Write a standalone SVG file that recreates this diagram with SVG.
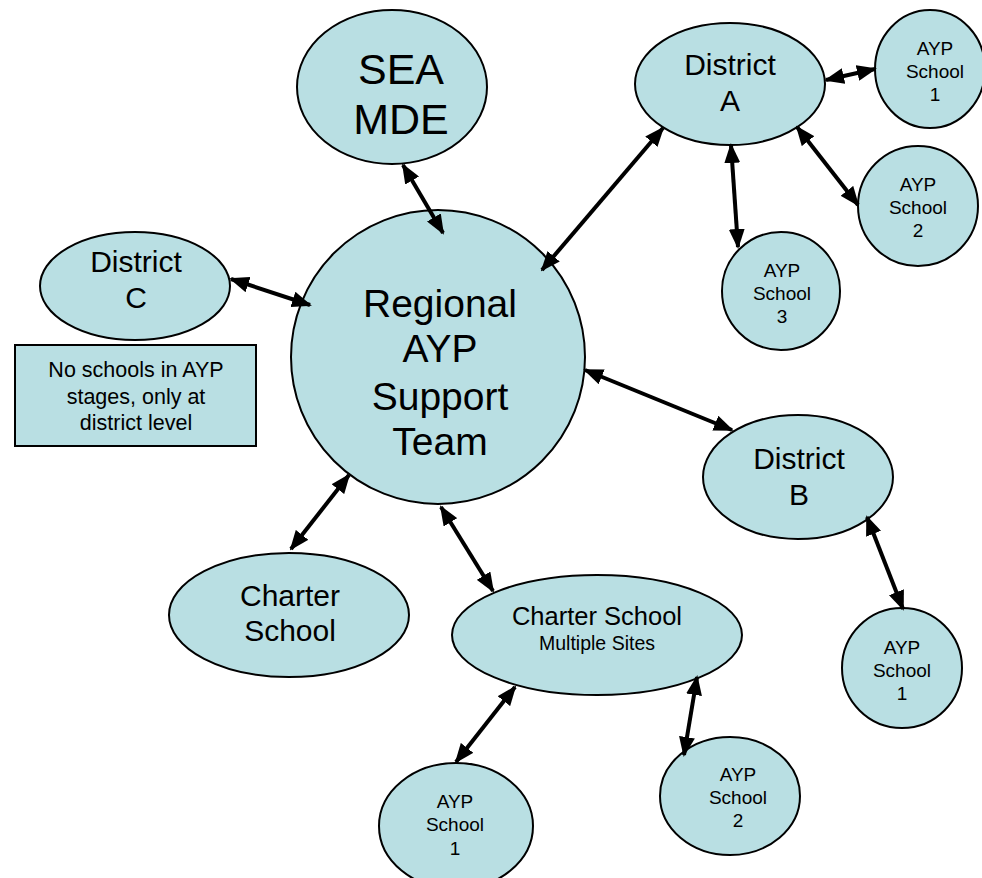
<svg xmlns="http://www.w3.org/2000/svg" width="982" height="878" viewBox="0 0 982 878">
<style>
.n{fill:#b9dfe3;stroke:#000;stroke-width:2}
.t{font-family:"Liberation Sans",Arial,sans-serif;fill:#000;text-anchor:middle}
.c{stroke:#000;stroke-width:4;fill:none;marker-start:url(#ah);marker-end:url(#ah)}
</style>
<defs>
<marker id="ah" viewBox="0 0 20 16" refX="18" refY="8" markerWidth="20" markerHeight="16" markerUnits="userSpaceOnUse" orient="auto-start-reverse">
<path d="M0,0 L20,8 L0,16 z" fill="#000"/>
</marker>
</defs>
<rect width="982" height="878" fill="#fff"/>
<g id="sea">
<ellipse class="n" cx="392" cy="87" rx="95" ry="77"/>
<text class="t" font-size="43" x="401" y="84">SEA</text>
<text class="t" font-size="43" x="401" y="134">MDE</text>
</g>
<g id="main">
<circle class="n" cx="438" cy="357" r="147"/>
<text class="t" font-size="39" x="440" y="317">Regional</text>
<text class="t" font-size="39" x="440" y="362">AYP</text>
<text class="t" font-size="39" x="440" y="410">Support</text>
<text class="t" font-size="39" x="440" y="455">Team</text>
</g>
<g id="districtA">
<ellipse class="n" cx="730" cy="84" rx="95" ry="61"/>
<text class="t" font-size="30" x="730" y="75">District</text>
<text class="t" font-size="30" x="730" y="111">A</text>
</g>
<g id="a1">
<ellipse class="n" cx="930" cy="69" rx="55" ry="59"/>
<text class="t" font-size="19" x="935" y="55">AYP</text>
<text class="t" font-size="19" x="935" y="78">School</text>
<text class="t" font-size="19" x="935" y="101">1</text>
</g>
<g id="a2">
<circle class="n" cx="918" cy="206" r="60"/>
<text class="t" font-size="19" x="918" y="191">AYP</text>
<text class="t" font-size="19" x="918" y="214">School</text>
<text class="t" font-size="19" x="918" y="237">2</text>
</g>
<g id="a3">
<circle class="n" cx="781" cy="291" r="59"/>
<text class="t" font-size="19" x="782" y="277">AYP</text>
<text class="t" font-size="19" x="782" y="300">School</text>
<text class="t" font-size="19" x="782" y="323">3</text>
</g>
<g id="districtC">
<ellipse class="n" cx="135" cy="286" rx="95" ry="54"/>
<text class="t" font-size="30" x="136" y="272">District</text>
<text class="t" font-size="30" x="136" y="308">C</text>
</g>
<g id="note">
<rect class="n" x="15" y="345" width="241" height="101"/>
<text class="t" font-size="21.5" x="136" y="377">No schools in AYP</text>
<text class="t" font-size="21.5" x="136" y="404">stages, only at</text>
<text class="t" font-size="21.5" x="136" y="430">district level</text>
</g>
<g id="districtB">
<ellipse class="n" cx="798" cy="477" rx="95" ry="62"/>
<text class="t" font-size="30" x="799" y="469">District</text>
<text class="t" font-size="30" x="799" y="505">B</text>
</g>
<g id="b1">
<circle class="n" cx="902" cy="668" r="60"/>
<text class="t" font-size="19" x="902" y="654">AYP</text>
<text class="t" font-size="19" x="902" y="677">School</text>
<text class="t" font-size="19" x="902" y="700">1</text>
</g>
<g id="charter">
<ellipse class="n" cx="289" cy="615" rx="120" ry="62"/>
<text class="t" font-size="30" x="290" y="606">Charter</text>
<text class="t" font-size="30" x="290" y="641">School</text>
</g>
<g id="charterMulti">
<ellipse class="n" cx="597" cy="635" rx="145" ry="60"/>
<text class="t" font-size="25.5" x="597" y="625">Charter School</text>
<text class="t" font-size="19.5" x="597" y="650">Multiple Sites</text>
</g>
<g id="m1">
<ellipse class="n" cx="456" cy="826" rx="77" ry="63"/>
<text class="t" font-size="19" x="455" y="808">AYP</text>
<text class="t" font-size="19" x="455" y="831">School</text>
<text class="t" font-size="19" x="455" y="855">1</text>
</g>
<g id="m2">
<ellipse class="n" cx="730" cy="796" rx="70" ry="59"/>
<text class="t" font-size="19" x="738" y="781">AYP</text>
<text class="t" font-size="19" x="738" y="804">School</text>
<text class="t" font-size="19" x="738" y="827">2</text>
</g>
<g id="connectors">
<line class="c" x1="403" y1="165" x2="443" y2="233"/>
<line class="c" x1="542" y1="270" x2="663" y2="128"/>
<line class="c" x1="826" y1="80" x2="875" y2="69"/>
<line class="c" x1="797" y1="127" x2="858" y2="205"/>
<line class="c" x1="731" y1="145" x2="738" y2="247"/>
<line class="c" x1="231" y1="279" x2="310" y2="305"/>
<line class="c" x1="585" y1="370" x2="732" y2="430"/>
<line class="c" x1="349" y1="475" x2="291" y2="549"/>
<line class="c" x1="441" y1="507" x2="493" y2="591"/>
<line class="c" x1="867" y1="517" x2="903" y2="609"/>
<line class="c" x1="515" y1="687" x2="456" y2="762"/>
<line class="c" x1="697" y1="677" x2="684" y2="755"/>
</g>
</svg>
